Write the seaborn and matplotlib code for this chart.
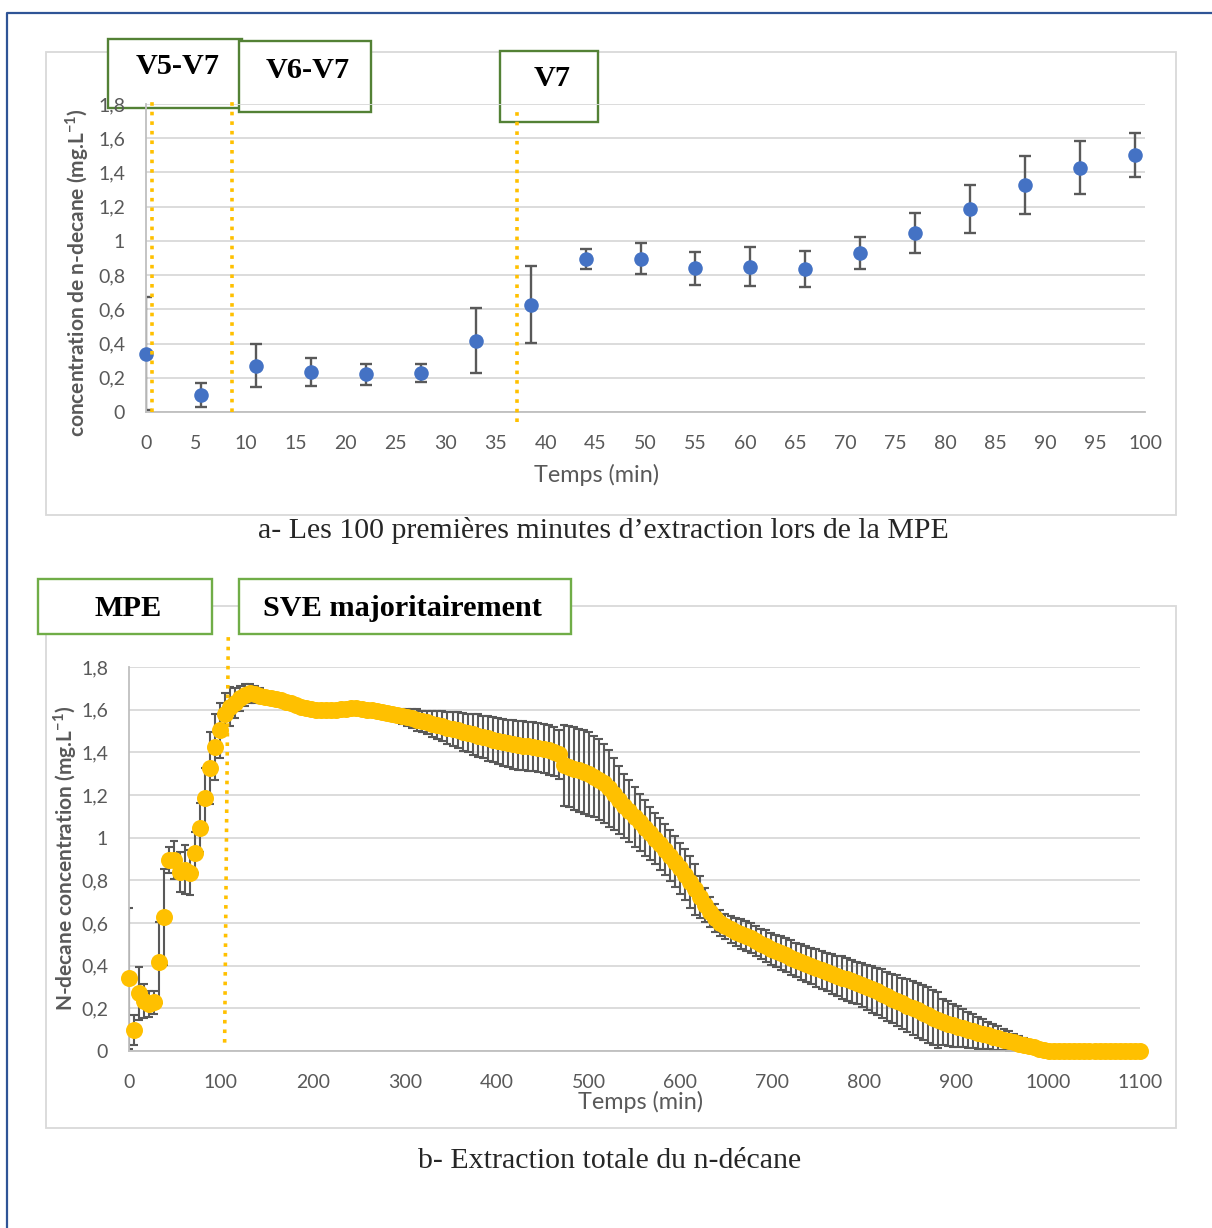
import numpy as np
import matplotlib
matplotlib.use("Agg")
import matplotlib.pyplot as plt
from matplotlib.patches import Rectangle
from matplotlib.lines import Line2D
from matplotlib.ticker import FuncFormatter, MultipleLocator
import seaborn as sns

# ---- data ----
# a- first 100 minutes (one sample every 5.5 min)
temps_a = [0, 5.5, 11, 16.5, 22, 27.5, 33, 38.5, 44, 49.5, 55, 60.5, 66, 71.5, 77, 82.5, 88, 93.5, 99]
conc_a = [0.34, 0.10, 0.27, 0.234, 0.22, 0.228, 0.415, 0.626, 0.895, 0.895,
          0.84, 0.85, 0.836, 0.93, 1.047, 1.187, 1.327, 1.427, 1.503]
err_a = [0.33, 0.07, 0.125, 0.08, 0.06, 0.055, 0.19, 0.225, 0.06, 0.09,
         0.095, 0.115, 0.105, 0.095, 0.115, 0.14, 0.17, 0.155, 0.13]

# b- whole extraction, same sampling step up to 1100 min
temps_b = np.arange(201) * 5.5
conc_b = conc_a + [
    1.58, 1.614, 1.633, 1.653, 1.669, 1.677, 1.672, 1.665, 1.659,
    1.653, 1.648, 1.644, 1.637, 1.629, 1.620, 1.613, 1.607, 1.603,
    1.600, 1.599, 1.598, 1.598, 1.599, 1.601, 1.604, 1.606, 1.606,
    1.603, 1.600, 1.597, 1.593, 1.588, 1.583, 1.578, 1.574, 1.570,
    1.565, 1.559, 1.552, 1.546, 1.540, 1.534, 1.528, 1.522, 1.515,
    1.509, 1.503, 1.496, 1.490, 1.484, 1.478, 1.472, 1.466, 1.460,
    1.453, 1.447, 1.442, 1.438, 1.434, 1.431, 1.428, 1.426, 1.422,
    1.417, 1.411, 1.403, 1.392, 1.340, 1.332, 1.324, 1.316, 1.308,
    1.298, 1.286, 1.272, 1.255, 1.232, 1.205, 1.177, 1.150, 1.124,
    1.098, 1.072, 1.046, 1.020, 0.995, 0.970, 0.943, 0.915, 0.887,
    0.857, 0.826, 0.792, 0.758, 0.722, 0.684, 0.650, 0.622, 0.600,
    0.584, 0.570, 0.558, 0.548, 0.538, 0.528, 0.514, 0.503, 0.492,
    0.480, 0.469, 0.458, 0.448, 0.438, 0.428, 0.418, 0.409, 0.399,
    0.389, 0.379, 0.370, 0.361, 0.352, 0.344, 0.336, 0.327, 0.318,
    0.309, 0.299, 0.289, 0.279, 0.268, 0.257, 0.246, 0.235, 0.224,
    0.213, 0.202, 0.191, 0.180, 0.168, 0.157, 0.146, 0.136, 0.128,
    0.121, 0.114, 0.107, 0.100, 0.093, 0.086, 0.079, 0.073, 0.066,
    0.060, 0.053, 0.047, 0.041, 0.035, 0.029, 0.023, 0.017, 0.011,
    0.005, 0.001,
    0, 0, 0, 0, 0, 0, 0, 0, 0, 0, 0, 0, 0, 0, 0, 0, 0, 0]
err_b = err_a + [
    0.10, 0.09, 0.07, 0.06, 0.05, 0.045, 0.04, 0.035, 0.03,
    0.03, 0.03, 0.025, 0.025, 0.025, 0.025, 0.025, 0.025, 0.025,
    0.025, 0.025, 0.025, 0.025, 0.025, 0.025, 0.025, 0.025, 0.025,
    0.025, 0.025, 0.025, 0.025, 0.028, 0.03, 0.03, 0.03, 0.035,
    0.04, 0.045, 0.05, 0.05, 0.055, 0.06, 0.065, 0.07, 0.075,
    0.08, 0.085, 0.09, 0.09, 0.095, 0.10, 0.10, 0.105, 0.105,
    0.11, 0.11, 0.11, 0.115, 0.115, 0.115, 0.115, 0.115, 0.115,
    0.115, 0.115, 0.115, 0.115, 0.19, 0.19, 0.195, 0.195, 0.195,
    0.195, 0.19, 0.19, 0.185, 0.18, 0.17, 0.16, 0.15, 0.145,
    0.14, 0.135, 0.13, 0.125, 0.12, 0.12, 0.12, 0.12, 0.12,
    0.12, 0.12, 0.12, 0.12, 0.10, 0.08, 0.07, 0.065, 0.06,
    0.06, 0.065, 0.065, 0.07, 0.07, 0.07, 0.07, 0.07, 0.075,
    0.075, 0.075, 0.08, 0.08, 0.08, 0.08, 0.085, 0.085, 0.085,
    0.09, 0.09, 0.09, 0.095, 0.095, 0.10, 0.10, 0.10, 0.10,
    0.105, 0.105, 0.11, 0.11, 0.115, 0.115, 0.115, 0.12, 0.12,
    0.125, 0.125, 0.13, 0.13, 0.13, 0.13, 0.13, 0.11, 0.105,
    0.10, 0.095, 0.09, 0.085, 0.08, 0.075, 0.07, 0.065, 0.06,
    0.055, 0.05, 0.045, 0.04, 0.035, 0.03, 0.025, 0.02, 0.015,
    0.01, 0.005,
    0, 0, 0, 0, 0, 0, 0, 0, 0, 0, 0, 0, 0, 0, 0, 0, 0, 0]

# vertical dotted markers (valve switches), in minutes
switch_a = [0.6, 8.6, 37.1]
switch_b = [106]

sns.set_style("white")
plt.rcParams["font.family"] = ["Lato", "DejaVu Sans"]
plt.rcParams["mathtext.fontset"] = "custom"
plt.rcParams["mathtext.rm"] = "Lato"
plt.rcParams["mathtext.bf"] = "Lato:bold"

W, H = 1212, 1228
fig = plt.figure(figsize=(W / 100, H / 100), dpi=100)


def fx(px):
    return px / W


def fy(py):
    return 1 - py / H


GREY = "#595959"
comma = FuncFormatter(lambda v, p: f"{v:.1f}".rstrip("0").rstrip(".").replace(".", ","))


def style(ax):
    ax.set_facecolor("none")
    ax.grid(axis="y", color="#D9D9D9", lw=1.3)
    ax.grid(axis="x", visible=False)
    ax.set_axisbelow(True)
    for s in ["top", "right"]:
        ax.spines[s].set_visible(False)
    for s in ["left", "bottom"]:
        ax.spines[s].set_color("#BFBFBF")
        ax.spines[s].set_linewidth(1.3)
    ax.tick_params(axis="x", direction="in", length=6, width=1.2, color="#BFBFBF",
                   labelcolor=GREY, labelsize=14, pad=16.5)
    ax.tick_params(axis="y", length=0, labelcolor=GREY, labelsize=14, pad=15)
    ax.set_ylim(0, 1.8)
    ax.yaxis.set_major_locator(MultipleLocator(0.2))
    ax.yaxis.set_major_formatter(comma)


# panel frames and outer border
fig.patches.append(Rectangle((fx(46), fy(515)), fx(1176) - fx(46), fy(52) - fy(515),
                             transform=fig.transFigure, fill=False, ec="#D9D9D9", lw=1.3, zorder=-2))
fig.patches.append(Rectangle((fx(46), fy(1128)), fx(1176) - fx(46), fy(606) - fy(1128),
                             transform=fig.transFigure, fill=False, ec="#D9D9D9", lw=1.3, zorder=-2))
fig.lines.append(Line2D([fx(7), fx(7), 1.0], [0.0, fy(13), fy(13)], transform=fig.transFigure,
                        color="#2F5496", lw=1.6))

# ---- panel a ----
ax_a = fig.add_axes([fx(146), fy(412), fx(1145) - fx(146), fy(104) - fy(412)])
style(ax_a)
ax_a.set_xlim(0, 100)
ax_a.xaxis.set_major_locator(MultipleLocator(5))
ax_a.errorbar(temps_a, conc_a, yerr=err_a, fmt="none", ecolor=GREY, elinewidth=1.7,
              capsize=4, capthick=1.7, zorder=2)
sns.scatterplot(x=temps_a, y=conc_a, ax=ax_a, color="#4472C4", s=110, linewidth=0,
                zorder=3, clip_on=False)
tops_a = [1.81, 1.81, 1.766]
bots_a = [0.0, 0.0, -0.058]
for x, t, b in zip(switch_a, tops_a, bots_a):
    ax_a.plot([x, x], [b, t], color="#FFC000", ls=":", lw=2.6, clip_on=False, zorder=4)
ax_a.set_xlabel("Temps (min)", color=GREY, fontsize=16.8)
ax_a.xaxis.set_label_coords((597 - 146) / 999, (412 - 475) / 308)
ax_a.xaxis.label.set_va("center")
ax_a.set_ylabel(r"concentration de n-decane (mg.L$^{\mathbf{-1}}$)", color=GREY,
                fontsize=15, fontweight="bold")
ax_a.yaxis.set_label_coords((77 - 146) / 999, (412 - 273) / 308)
ax_a.yaxis.label.set_va("center")

# ---- panel b ----
ax_b = fig.add_axes([fx(129), fy(1051), fx(1140) - fx(129), fy(667) - fy(1051)])
style(ax_b)
ax_b.set_xlim(0, 1100)
ax_b.xaxis.set_major_locator(MultipleLocator(100))
ax_b.errorbar(temps_b, conc_b, yerr=err_b, fmt="none", ecolor=GREY, elinewidth=1.5,
              capsize=2.8, capthick=1.5, zorder=2)
sns.scatterplot(x=temps_b, y=conc_b, ax=ax_b, color="#FFC000", s=150, linewidth=0,
                zorder=3, clip_on=False)
for x in switch_b:
    ax_b.plot([x + 2, x - 2], [1.94, 0.014], color="#FFC000", ls=":", lw=2.6, clip_on=False, zorder=4)
ax_b.set_xlabel("Temps (min)", color=GREY, fontsize=16.8)
ax_b.xaxis.set_label_coords((641 - 129) / 1011, (1051 - 1102) / 384)
ax_b.xaxis.label.set_va("center")
ax_b.set_ylabel(r"N-decane concentration (mg.L$^{\mathbf{-1}}$)", color=GREY,
                fontsize=15, fontweight="bold")
ax_b.yaxis.set_label_coords((65 - 129) / 1011, (1051 - 858) / 384)
ax_b.yaxis.label.set_va("center")

# ---- annotation boxes ----
boxes = [
    ("V5-V7", 108, 39, 242, 108, 178, 67, "#538135"),
    ("V6-V7", 239, 41, 371, 112, 308, 70, "#538135"),
    ("V7", 500, 51, 598, 122, 552, 78, "#538135"),
    ("MPE", 38, 579, 212, 634, 128, 608, "#70AD47"),
    ("SVE majoritairement", 239, 579, 571, 634, 402, 608, "#70AD47"),
]
for label, x0, y0, x1, y1, tx, ty, col in boxes:
    fig.patches.append(Rectangle((fx(x0), fy(y1)), fx(x1) - fx(x0), fy(y0) - fy(y1),
                                 transform=fig.transFigure, fc="white", ec=col, lw=1.7, zorder=-1))
    fig.text(fx(tx), fy(ty), label, ha="center", va="center", fontsize=21.8,
             fontweight="bold", family="Liberation Serif", color="black")

# ---- captions ----
fig.text(fx(603), fy(530), "a- Les 100 premières minutes d’extraction lors de la MPE",
         ha="center", va="center", fontsize=21.5, family="Liberation Serif")
fig.text(fx(610), fy(1161), "b- Extraction totale du n-décane",
         ha="center", va="center", fontsize=21.5, family="Liberation Serif")

fig.savefig("out.png", dpi=100)
